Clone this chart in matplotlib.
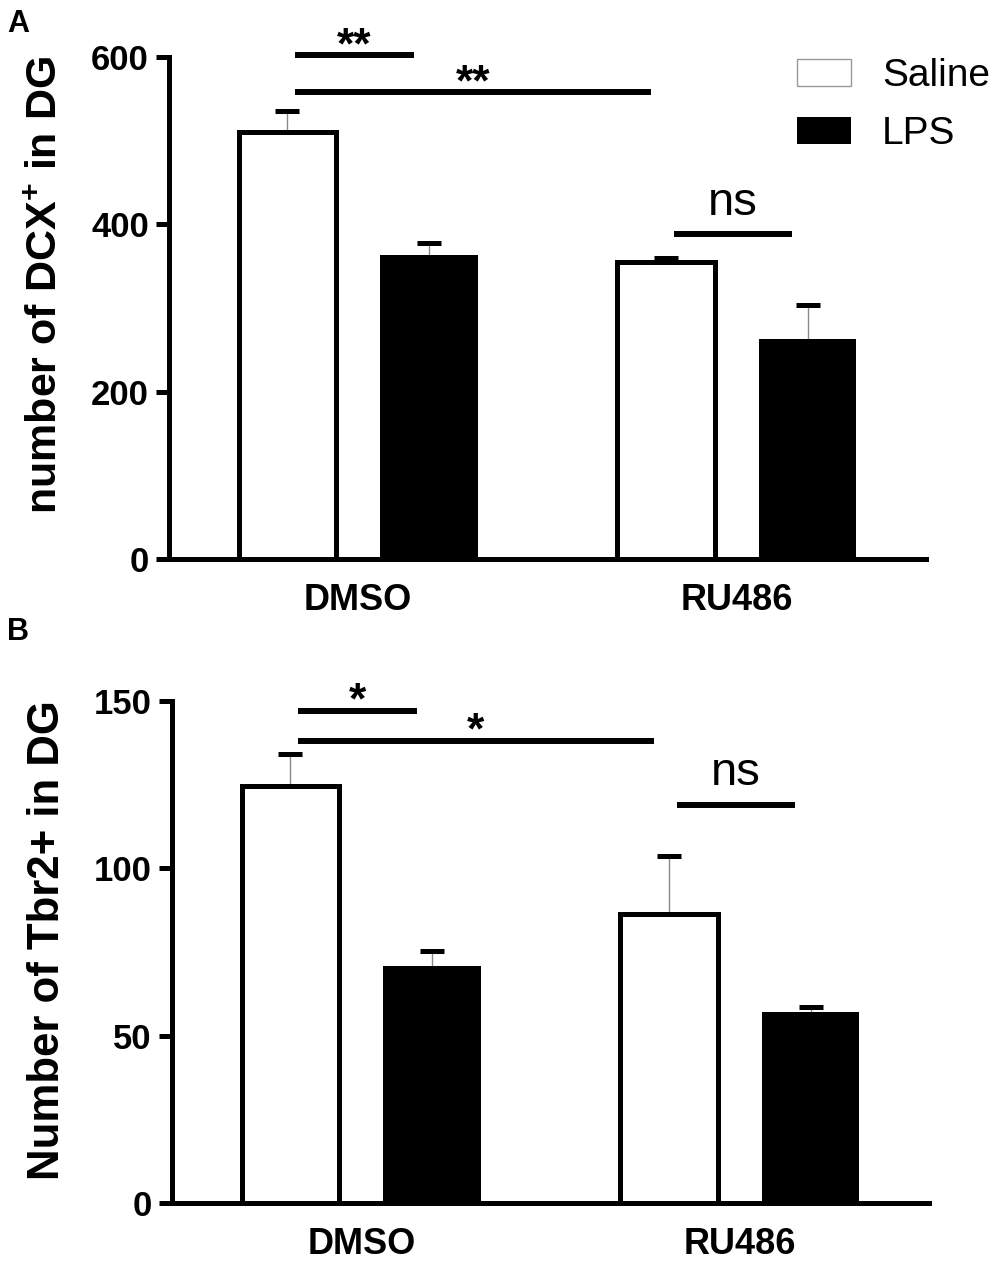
import matplotlib
matplotlib.use("Agg")
import matplotlib.pyplot as plt
from matplotlib.patches import Patch
import numpy as np

plt.rcParams['font.family'] = ['Liberation Sans', 'DejaVu Sans']
plt.rcParams['mathtext.fontset'] = 'custom'
plt.rcParams['mathtext.rm'] = 'Liberation Sans'
plt.rcParams['mathtext.bf'] = 'Liberation Sans:bold'

groups = ["DMSO", "RU486"]
series = ["Saline", "LPS"]

# panel A - DCX+ cells (mean, sem)
dcx_saline = [510, 355]
dcx_saline_sem = [25, 5]
dcx_lps = [363, 263]
dcx_lps_sem = [15, 41]

# panel B - Tbr2+ cells (mean, sem)
tbr2_saline = [124.6, 86.3]
tbr2_saline_sem = [9.6, 17.4]
tbr2_lps = [70.8, 57.1]
tbr2_lps_sem = [4.5, 1.5]

# comparisons: (bar i, bar j, height, label); bars ordered DMSO-Sal, DMSO-LPS, RU-Sal, RU-LPS
dcx_stats = [(0, 1, 602, "**"), (0, 2, 558, "**"), (2, 3, 388, "ns")]
tbr2_stats = [(0, 1, 147, "*"), (0, 2, 138, "*"), (2, 3, 119, "ns")]

off = 0.187
width = 0.258
lw = 3.6


def draw_panel(ax, sal, sal_sem, lps, lps_sem, stats, ymax, step):
    x = np.arange(len(groups))
    ax.bar(x - off, sal, width, color="white", edgecolor="black", linewidth=lw, zorder=3)
    ax.bar(x + off, lps, width, color="black", edgecolor="black", linewidth=0, zorder=3)

    # error bars: thin grey stem, thick black cap (upper side only)
    pos = np.concatenate([x - off, x + off])
    top = np.concatenate([sal, lps])
    err = np.concatenate([sal_sem, lps_sem])
    ax.vlines(pos, top, top + err, color="#8a8a8a", linewidth=1, zorder=2)
    ax.plot(pos, top + err, ls="none", marker="_", ms=17, mew=3.6, color="black", zorder=4)

    centers = [x[0] - off, x[0] + off, x[1] - off, x[1] + off]
    for i, j, h, lab in stats:
        x1 = centers[i] + 0.02
        x2 = centers[j] - 0.04
        ax.plot([x1, x2], [h, h], color="black", lw=4.3, solid_capstyle="butt", clip_on=False)
        if lab == "ns":
            ax.annotate(lab, ((x1 + x2) / 2, h), xytext=(0, 14), textcoords="offset points",
                        ha="center", va="baseline", fontsize=34, annotation_clip=False)
        else:
            ax.annotate(lab, ((x1 + x2) / 2, h), xytext=(0, -2), textcoords="offset points",
                        ha="center", va="baseline", fontsize=32, fontweight="bold",
                        annotation_clip=False)

    ax.set_xlim(-0.5, 1.5)
    ax.set_ylim(0, ymax)
    ax.set_yticks(np.arange(0, ymax + 1, step))
    ax.set_xticks(x)
    ax.set_xticklabels(groups, fontsize=26, fontweight="bold")
    for t in ax.get_yticklabels():
        t.set_fontsize(25)
        t.set_fontweight("bold")
    ax.spines["top"].set_visible(False)
    ax.spines["right"].set_visible(False)
    ax.spines["left"].set_linewidth(lw)
    ax.spines["bottom"].set_linewidth(lw)
    ax.tick_params(axis="y", length=9.5, width=lw, pad=5)
    ax.tick_params(axis="x", length=0, pad=17)


fig = plt.figure(figsize=(10, 12.62), dpi=100)
axA = fig.add_axes([0.169, 0.557, 0.757, 0.3978])
axB = fig.add_axes([0.172, 0.0468, 0.757, 0.3978])

draw_panel(axA, dcx_saline, dcx_saline_sem, dcx_lps, dcx_lps_sem, dcx_stats, 600, 200)
draw_panel(axB, tbr2_saline, tbr2_saline_sem, tbr2_lps, tbr2_lps_sem, tbr2_stats, 150, 50)

fig.text(0.046, 1 - 285 / 1262, r"number of DCX$^{\mathbf{+}}$ in DG", rotation=90,
         ha="center", va="center", fontsize=31, fontweight="bold")
fig.text(0.048, 1 - 940 / 1262, "Number of Tbr2+ in DG", rotation=90,
         ha="center", va="center", fontsize=31.5, fontweight="bold")

fig.text(0.007, 1 - 32 / 1262, "A", fontsize=22, fontweight="bold", va="baseline")
fig.text(0.007, 1 - 640 / 1262, "B", fontsize=22, fontweight="bold", va="baseline")

handles = [Patch(facecolor="white", edgecolor="#999999", linewidth=1),
           Patch(facecolor="black", edgecolor="black", linewidth=0)]
fig.legend(handles, series, loc="upper left", bbox_to_anchor=(0.797, 1 - 58 / 1262),
           frameon=False, fontsize=28, handlelength=1.39, handleheight=0.7,
           handletextpad=0.8, labelspacing=0.57, borderpad=0, borderaxespad=0)

fig.savefig("out.png", dpi=100)
